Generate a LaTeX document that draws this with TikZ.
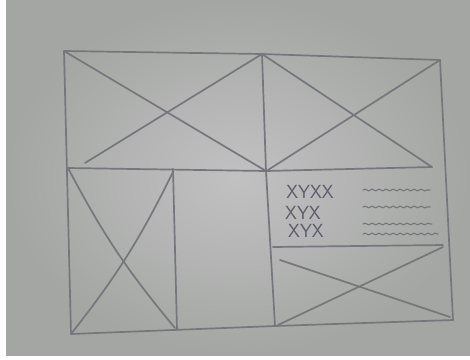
\documentclass[tikz,border=0pt]{standalone}
\usetikzlibrary{decorations.pathmorphing}
\definecolor{paperedge}{RGB}{163,166,163}
\definecolor{papermid}{RGB}{194,193,194}
\definecolor{pencil}{RGB}{118,118,124}
\definecolor{ink}{RGB}{92,92,106}
\begin{document}
\begin{tikzpicture}[x=1pt,y=-1pt,line width=1.7pt,
    sketch/.style={draw=pencil,line cap=round,line join=round},
    wavy/.style={sketch,line width=1.1pt,decorate,
      decoration={snake,segment length=7pt,amplitude=0.9pt}},
    scrawl/.style={text=ink,font=\sffamily\fontsize{19}{19}\selectfont,inner sep=0pt}]
    % photo of the sheet
    \fill[white] (0,0) rectangle (470,359);
    \shade[inner color=papermid,outer color=paperedge] (6,0) rectangle (470,355);

    % corners of the frame
    \coordinate (tl) at (64,51);
    \coordinate (tm) at (262,54);
    \coordinate (tr) at (440,60);
    \coordinate (ml) at (68,168);
    \coordinate (mm) at (266,171);
    \coordinate (mr) at (432,167);
    \coordinate (bl) at (71,334);
    \coordinate (bm) at (275,326);
    \coordinate (br) at (453,320);

    % outer frame and dividers
    \draw[sketch] (tl) -- (tm) -- (tr) -- (br) -- (bm) -- (bl) -- cycle;
    \draw[sketch] (tm) -- (mm) -- (bm);
    \draw[sketch] (ml) -- (mm) -- (mr);
    \draw[sketch] (173,169) -- (177,330);
    \draw[sketch] (273,247) -- (443,245);

    % top left image
    \draw[sketch] (tl) -- (mm);
    \draw[sketch] (85,163) -- (tm);

    % top right image
    \draw[sketch] (tm) -- (mr);
    \draw[sketch] (268,170) -- (tr);

    % lower left image
    \draw[sketch] (ml) to[bend right=6] (175,328);
    \draw[sketch] (173,172) to[bend left=6] (bl);

    % text block
    \node[scrawl] (row1) at (310,192) {XYXX};
    \node[scrawl] (row2) at (303,213) {XYX};
    \node[scrawl] (row3) at (306,231) {XYX};
    \draw[wavy] (363,190) -- (430,190);
    \draw[wavy] (363,207) -- (430,207);
    \draw[wavy] (363,224) -- (432,224);
    \draw[wavy] (363,234) -- (438,234);

    % lower right image
    \draw[sketch] (280,260) -- (450,317);
    \draw[sketch] (278,325) -- (443,247);
  \end{tikzpicture}
\end{document}
